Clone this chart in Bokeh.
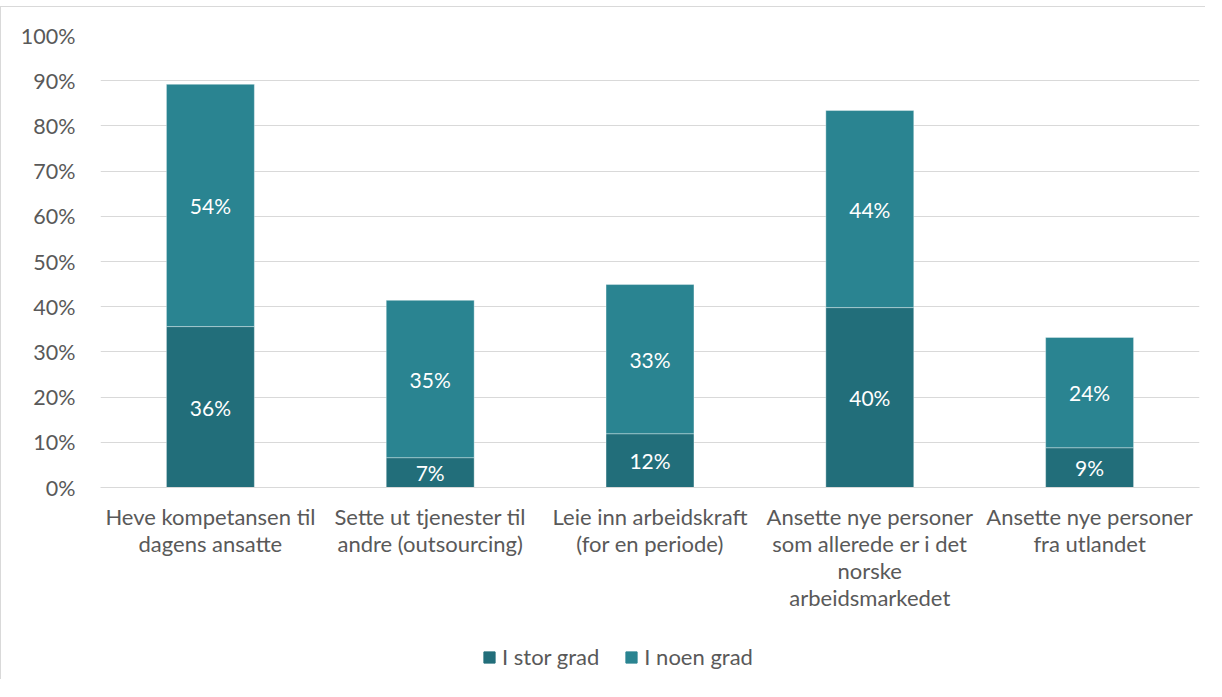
from bokeh.plotting import figure
from bokeh.layouts import column
from bokeh.models import (ColumnDataSource, FixedTicker, LabelSet, CustomJSTickFormatter,
                          Legend, LegendItem)
from bokeh.core.properties import value
from bokeh.embed import file_html
from bokeh.resources import INLINE

categories = [
    "Heve kompetansen til\ndagens ansatte",
    "Sette ut tjenester til\nandre (outsourcing)",
    "Leie inn arbeidskraft\n(for en periode)",
    "Ansette nye personer\nsom allerede er i det\nnorske\narbeidsmarkedet",
    "Ansette nye personer\nfra utlandet",
]
series_names = ["I stor grad", "I noen grad"]
stor = [35.6, 6.6, 11.9, 39.8, 8.8]
noen = [53.6, 34.8, 33.0, 43.6, 24.4]
colors = ["#226e7a", "#2a8491"]
FONT = "Lato"
TXT = "#595959"
BORDER = "#d9d9d9"

src = ColumnDataSource(dict(
    cat=categories, stor=stor, noen=noen,
    stor_mid=[s / 2 for s in stor],
    noen_mid=[s + n / 2 for s, n in zip(stor, noen)],
    stor_lbl=[f"{round(s):.0f}%" for s in stor],
    noen_lbl=[f"{round(n):.0f}%" for n in noen],
))

p = figure(x_range=categories, y_range=(0, 100), width=1204, height=626,
           output_backend="svg", toolbar_location=None,
           min_border_left=99, min_border_right=6, min_border_top=28, min_border_bottom=146)

p.vbar_stack(["stor", "noen"], x="cat", width=0.4, color=colors, source=src,
             line_color="white", line_alpha=0.35, line_width=1)

for ycol, tcol in (("stor_mid", "stor_lbl"), ("noen_mid", "noen_lbl")):
    ls = LabelSet(x="cat", y=ycol, text=tcol, source=src, text_align="center",
                  text_baseline="middle", text_color="white",
                  text_font=value(FONT), text_font_size="21px")
    p.add_layout(ls)

p.yaxis.ticker = FixedTicker(ticks=list(range(0, 101, 10)))
p.yaxis.formatter = CustomJSTickFormatter(code="return tick + '%';")
p.yaxis.axis_line_color = None
p.yaxis.major_tick_line_color = None
p.yaxis.minor_tick_line_color = None
p.yaxis.major_label_standoff = 19
p.yaxis.major_label_text_font = FONT
p.yaxis.major_label_text_font_size = "21.5px"
p.yaxis.major_label_text_color = TXT

p.xaxis.axis_line_color = BORDER
p.xaxis.major_tick_line_color = None
p.xaxis.major_label_standoff = 9
p.xaxis.major_label_text_font = FONT
p.xaxis.major_label_text_font_size = "22px"
p.xaxis.major_label_text_color = TXT
p.xaxis.major_label_text_line_height = 1.0

p.xgrid.grid_line_color = None
p.ygrid.grid_line_color = BORDER
p.ygrid.grid_line_width = 1
p.outline_line_color = None

# legend strip
lg = figure(x_range=(0, 1), y_range=(0, 1), width=1204, height=46,
            output_backend="svg", toolbar_location=None,
            min_border_left=0, min_border_right=0, min_border_top=0, min_border_bottom=0)
lg.axis.visible = False
lg.grid.visible = False
lg.outline_line_color = None
dummy = [lg.vbar(x=[0.5], top=[1], width=0.1, color=c, visible=False) for c in colors]
leg = Legend(items=[LegendItem(label=n, renderers=[r]) for n, r in zip(series_names, dummy)],
             orientation="horizontal", location=(382, 9),
             label_text_font=FONT, label_text_font_size="22px", label_text_color=TXT,
             glyph_width=14, glyph_height=14, spacing=25, label_standoff=6,
             padding=0, margin=0, border_line_color=None, background_fill_alpha=0,
             inactive_fill_alpha=0)
lg.add_layout(leg)

layout = column(p, lg, spacing=0,
                styles={"border-top": f"1px solid {BORDER}",
                        "border-left": f"1px solid {BORDER}",
                        "margin-top": "6px"})

open("out.html", "w").write(file_html(layout, INLINE))
